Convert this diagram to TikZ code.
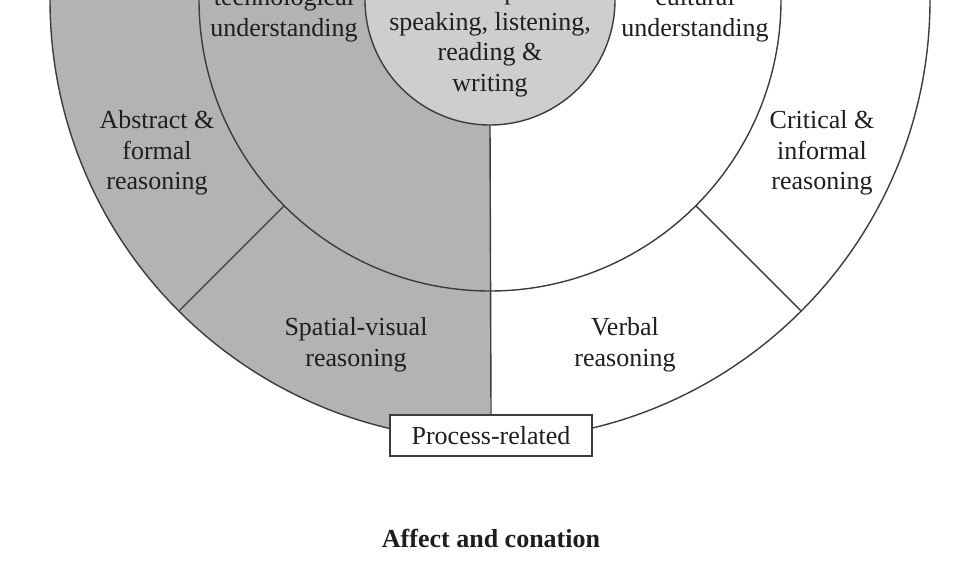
\documentclass[tikz,border=0pt]{standalone}
\usepackage{fontspec}
\setmainfont{Liberation Serif}
\usetikzlibrary{calc}
\definecolor{ringgray}{RGB}{179,179,179}
\definecolor{coregray}{RGB}{206,206,206}
\definecolor{linegray}{RGB}{60,60,60}
\definecolor{txt}{RGB}{30,30,30}
\tikzset{
  ringline/.style={draw=linegray, line width=1.4pt},
  lbl/.style={align=center, text=txt, font=\fontsize{26}{30.5}\selectfont, inner sep=0pt},
  tagbox/.style={draw=linegray, line width=1.3pt, fill=white, text=txt,
     font=\fontsize{26}{30}\selectfont, minimum width=202pt, minimum height=41pt, inner sep=0pt},
  titletext/.style={text=txt, font=\fontsize{26}{30}\selectfont\bfseries, inner sep=0pt}
}
\begin{document}
\begin{tikzpicture}[x=1pt,y=1pt]
\useasboundingbox (0,0) rectangle (955,-580);
\clip (0,0) rectangle (955,-580);
\coordinate (c) at (490,0);
% fills
\fill[white] (0,0) rectangle (955,-580);
\fill[ringgray] (490,440) arc (90:270:440) -- cycle;
\fill[coregray] (c) circle (125);
% circles
\draw[ringline] (c) circle (440);
\draw[ringline] (c) circle (291);
\draw[ringline] (c) circle (125);
% dividers
\draw[ringline] ($(c)+(-135:291)$) -- ($(c)+(-135:440)$);
\draw[ringline] ($(c)+(-45:291)$) -- ($(c)+(-45:440)$);
% box and vertical line
\node[tagbox] (proc) at (491,-435.5) {Process-related};
\draw[ringline] ($(c)+(0,-125)$) -- (proc.north);
% labels
\node[lbl] (tech) at (284,-15) {technological\\understanding};
\node[lbl] (core) at (490,-39) {Generic aspects of\\speaking, listening,\\reading \&\\writing};
\node[lbl] (cult) at (695,-15) {cultural\\understanding};
\node[lbl] (abs) at (157,-153) {Abstract \&\\formal\\reasoning};
\node[lbl] (crit) at (822,-153) {Critical \&\\informal\\reasoning};
\node[lbl] (spat) at (356,-345) {Spatial-visual\\reasoning};
\node[lbl] (verb) at (625,-345) {Verbal\\reasoning};
\node[titletext] (title) at (491,-538) {Affect and conation};
\end{tikzpicture}
\end{document}
